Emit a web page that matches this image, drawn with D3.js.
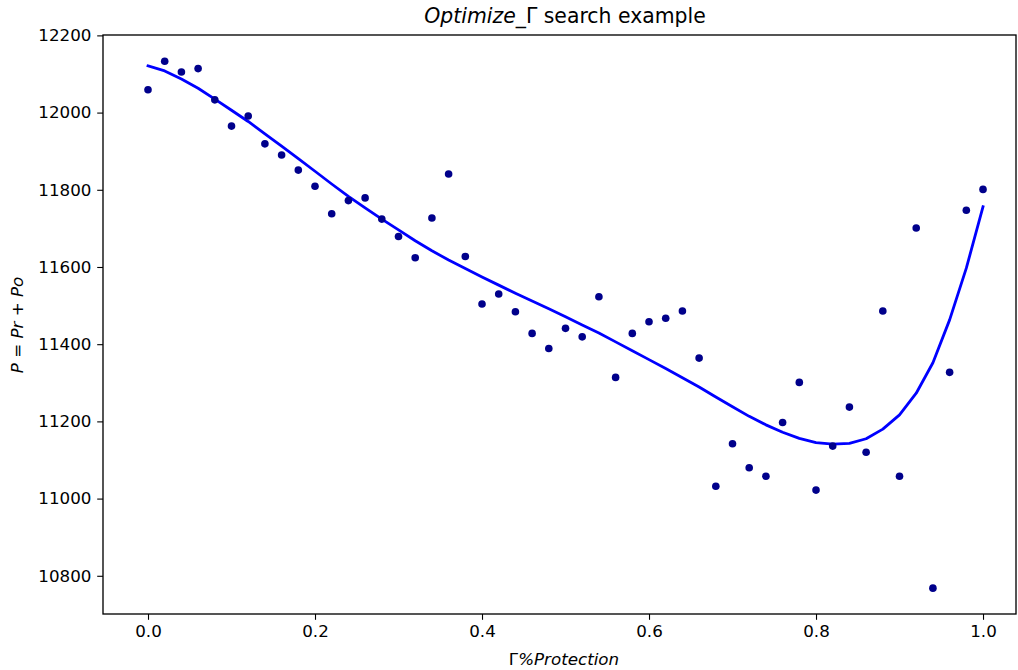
<!DOCTYPE html>
<html>
<head>
<meta charset="utf-8">
<script src="https://cdn.jsdelivr.net/npm/d3@7"></script>
<style>
  html, body { margin: 0; padding: 0; background: #ffffff; }
  svg { display: block; font-family: "DejaVu Sans", sans-serif; }
</style>
</head>
<body>
<svg id="chart" width="1018" height="670"></svg>
<script>
// Protection level Γ (fraction) for each search step
const gammaPct = [0.00, 0.02, 0.04, 0.06, 0.08, 0.10, 0.12, 0.14, 0.16, 0.18,
                  0.20, 0.22, 0.24, 0.26, 0.28, 0.30, 0.32, 0.34, 0.36, 0.38,
                  0.40, 0.42, 0.44, 0.46, 0.48, 0.50, 0.52, 0.54, 0.56, 0.58,
                  0.60, 0.62, 0.64, 0.66, 0.68, 0.70, 0.72, 0.74, 0.76, 0.78,
                  0.80, 0.82, 0.84, 0.86, 0.88, 0.90, 0.92, 0.94, 0.96, 0.98, 1.00];

// Observed objective P = Pr + Po at each Γ
const profitObserved = [12059, 12133, 12105, 12114, 12033, 11965, 11991, 11919, 11890, 11851,
                        11809, 11738, 11772, 11779, 11724, 11679, 11624, 11727, 11841, 11627,
                        11504, 11530, 11484, 11428, 11389, 11441, 11419, 11523, 11314, 11428,
                        11458, 11467, 11486, 11364, 11032, 11142, 11080, 11058, 11197, 11301,
                        11022, 11136, 11237, 11120, 11486, 11058, 11701, 10768, 11327, 11747, 11801];

// Fitted trend of P over Γ
const profitFitted = [12121, 12108, 12087, 12063, 12035, 12006, 11977, 11945, 11913, 11881,
                      11848, 11815, 11783, 11753, 11724, 11696, 11668, 11642, 11618, 11596,
                      11574, 11553, 11532, 11512, 11492, 11471, 11450, 11429, 11406, 11383,
                      11360, 11337, 11313, 11289, 11263, 11238, 11213, 11191, 11172, 11156,
                      11145, 11141, 11143, 11155, 11180, 11217, 11273, 11352, 11463, 11597, 11756];

const xTicks = [0.0, 0.2, 0.4, 0.6, 0.8, 1.0];
const yTicks = [10800, 11000, 11200, 11400, 11600, 11800, 12000, 12200];

// Plot area
const plotLeft = 103, plotRight = 1016, plotTop = 35, plotBottom = 614;
const tickLen = 5.8, tickPad = 5.8;
const fontTick = 16.7, fontLabel = 16.7, fontTitle = 20.4;

const svg = d3.select("#chart");
svg.append("rect").attr("width", 1018).attr("height", 670).attr("fill", "#ffffff");

const x = d3.scaleLinear().domain([-0.0539, 1.0395]).range([plotLeft, plotRight]);
const y = d3.scaleLinear().domain([10701, 12201]).range([plotBottom, plotTop]);

// Fitted curve
const line = d3.line()
  .x((d, i) => x(gammaPct[i]))
  .y(d => y(d));

svg.append("path")
  .datum(profitFitted)
  .attr("d", line)
  .attr("fill", "none")
  .attr("stroke", "#0000ff")
  .attr("stroke-width", 2.8)
  .attr("stroke-linejoin", "round")
  .attr("stroke-linecap", "square");

// Observed points
svg.append("g")
  .selectAll("circle")
  .data(profitObserved)
  .join("circle")
  .attr("cx", (d, i) => x(gammaPct[i]))
  .attr("cy", d => y(d))
  .attr("r", 3.8)
  .attr("fill", "#00008b");

// Axes
const xAxis = d3.axisBottom(x)
  .tickValues(xTicks)
  .tickFormat(d3.format(".1f"))
  .tickSize(tickLen)
  .tickPadding(tickPad)
  .tickSizeOuter(0);

const yAxis = d3.axisLeft(y)
  .tickValues(yTicks)
  .tickFormat(d3.format("d"))
  .tickSize(tickLen)
  .tickPadding(tickPad)
  .tickSizeOuter(0);

const gx = svg.append("g").attr("transform", `translate(0,${plotBottom})`).call(xAxis);
const gy = svg.append("g").attr("transform", `translate(${plotLeft},0)`).call(yAxis);

[gx, gy].forEach(g => {
  g.select(".domain").remove();
  g.selectAll(".tick line").attr("stroke", "#000").attr("stroke-width", 1.1);
  g.selectAll(".tick text")
    .attr("fill", "#000")
    .style("font-family", "'DejaVu Sans', sans-serif")
    .style("font-size", fontTick + "px");
});

// Frame around the plot area
svg.append("rect")
  .attr("x", plotLeft).attr("y", plotTop)
  .attr("width", plotRight - plotLeft).attr("height", plotBottom - plotTop)
  .attr("fill", "none")
  .attr("stroke", "#000")
  .attr("stroke-width", 1.33);

// Title
const title = svg.append("text")
  .attr("x", 565).attr("y", 23)
  .attr("text-anchor", "middle")
  .style("font-size", fontTitle + "px")
  .attr("fill", "#000");
title.append("tspan").style("font-style", "italic").text("Optimize");
title.append("tspan").text("_Γ search example");

// x label
const xl = svg.append("text")
  .attr("x", 564).attr("y", 665)
  .attr("text-anchor", "middle")
  .style("font-size", fontLabel + "px")
  .attr("fill", "#000");
xl.append("tspan").text("Γ");
xl.append("tspan").style("font-style", "italic").text("%Protection");

// y label
const yl = svg.append("text")
  .attr("transform", "translate(23,325) rotate(-90)")
  .attr("text-anchor", "middle")
  .style("font-size", fontLabel + "px")
  .attr("fill", "#000");
yl.append("tspan").style("font-style", "italic").text("P");
yl.append("tspan").text(" = ");
yl.append("tspan").style("font-style", "italic").text("Pr");
yl.append("tspan").text(" + ");
yl.append("tspan").style("font-style", "italic").text("Po");
</script>
</body>
</html>
